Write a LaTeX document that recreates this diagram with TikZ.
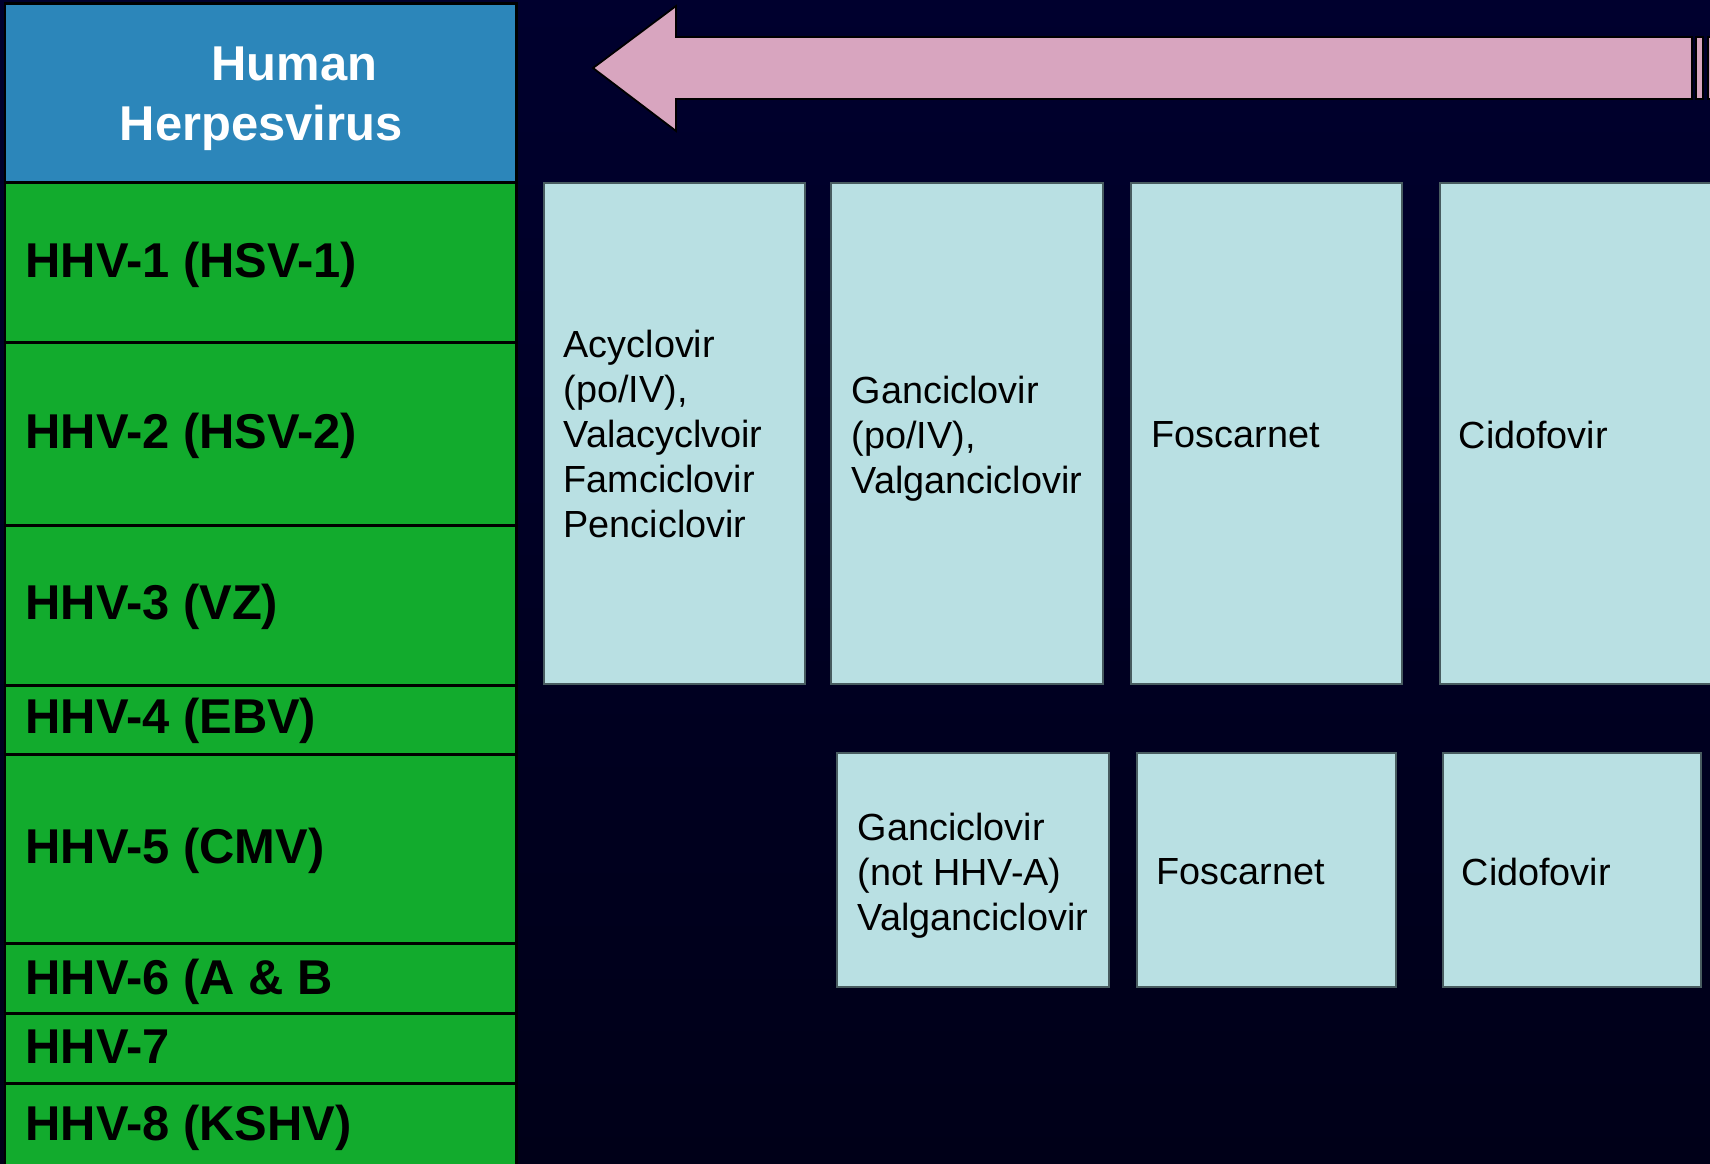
\documentclass[tikz,border=0pt]{standalone}
\usepackage{fontspec}
\setmainfont{Liberation Sans}

\definecolor{navytop}{RGB}{0,0,46}
\definecolor{navybot}{RGB}{0,0,24}
\definecolor{hdrblue}{RGB}{44,134,186}
\definecolor{rowgreen}{RGB}{18,171,45}
\definecolor{druglight}{RGB}{185,224,227}
\definecolor{drugedge}{RGB}{72,92,96}
\definecolor{arrowpink}{RGB}{216,165,191}

\tikzset{
	cell/.style={draw=black, line width=0.85pt},
	rowlabel/.style={anchor=base west, inner sep=0pt, font=\fontsize{13.9}{17}\selectfont\bfseries},
	drugbox/.style={draw=drugedge, line width=0.45pt, fill=druglight},
	druglabel/.style={anchor=west, inner sep=0pt, align=left, font=\fontsize{10.75}{12.75}\selectfont},
}

\begin{document}
\begin{tikzpicture}[x=0.01cm, y=-0.01cm]
		%%%%% BACKGROUND %%%%%
		\useasboundingbox (0, 0) rectangle (1710, 1163);
		\clip (0, 0) rectangle (1710, 1163);
		\shade[top color=navytop, bottom color=navybot] (0, 0) rectangle (1710, 1163);
		
		%%%%% LEFT COLUMN %%%%%
		\draw[cell, fill=hdrblue] (5, 3) rectangle (516, 182);
		\node[align=center, inner sep=0pt, text=white, font=\fontsize{13.9}{17}\selectfont\bfseries] (title) at (261, 99) {\hspace*{0.67cm}Human\\Herpesvirus};
		
		\draw[cell, fill=rowgreen] (5, 182) rectangle (516, 342);
		\draw[cell, fill=rowgreen] (5, 342) rectangle (516, 525);
		\draw[cell, fill=rowgreen] (5, 525) rectangle (516, 685);
		\draw[cell, fill=rowgreen] (5, 685) rectangle (516, 754);
		\draw[cell, fill=rowgreen] (5, 754) rectangle (516, 943);
		\draw[cell, fill=rowgreen] (5, 943) rectangle (516, 1013);
		\draw[cell, fill=rowgreen] (5, 1013) rectangle (516, 1083);
		\draw[cell, fill=rowgreen] (5, 1083) rectangle (516, 1180);
		
		\node[rowlabel] (hhv1) at (25, 277) {HHV-1 (HSV-1)};
		\node[rowlabel] (hhv2) at (25, 448) {HHV-2 (HSV-2)};
		\node[rowlabel] (hhv3) at (25, 619) {HHV-3 (VZ)};
		\node[rowlabel] (hhv4) at (25, 733) {HHV-4 (EBV)};
		\node[rowlabel] (hhv5) at (25, 863) {HHV-5 (CMV)};
		\node[rowlabel] (hhv6) at (25, 994) {HHV-6 (A \& B};
		\node[rowlabel] (hhv7) at (25, 1063) {HHV-7};
		\node[rowlabel] (hhv8) at (25, 1140) {HHV-8 (KSHV)};
		
		%%%%% ARROW %%%%%
		\draw[fill=arrowpink, line width=0.5pt, line join=miter] (593, 68) -- (676, 6) -- (676, 37) -- (1692, 37) -- (1692, 99) -- (676, 99) -- (676, 131) -- cycle;
		\draw[fill=arrowpink, line width=0.5pt] (1696, 37) rectangle (1703, 99);
		\draw[fill=arrowpink, line width=0.5pt] (1708, 37) rectangle (1725, 99);
		
		%%%%% TOP ROW OF DRUGS %%%%%
		\draw[drugbox] (544, 183) rectangle (805, 684);
		\node[druglabel] (acv) at (563, 434) {Acyclovir\\(po/IV),\\Valacyclvoir\\Famciclovir\\Penciclovir};
		
		\draw[drugbox] (831, 183) rectangle (1103, 684);
		\node[druglabel] (gcv) at (851, 439) {Ganciclovir\\(po/IV),\\Valganciclovir};
		
		\draw[drugbox] (1131, 183) rectangle (1402, 684);
		\node[druglabel] (fos) at (1151, 435) {Foscarnet};
		
		\draw[drugbox] (1440, 183) rectangle (1725, 684);
		\node[druglabel] (cdv) at (1458, 435) {Cidofovir};
		
		%%%%% BOTTOM ROW OF DRUGS %%%%%
		\draw[drugbox] (837, 753) rectangle (1109, 987);
		\node[druglabel] (gcvb) at (857, 876) {Ganciclovir\\(not HHV-A)\\Valganciclovir};
		
		\draw[drugbox] (1137, 753) rectangle (1396, 987);
		\node[druglabel] (fosb) at (1156, 872) {Foscarnet};
		
		\draw[drugbox] (1443, 753) rectangle (1701, 987);
		\node[druglabel] (cdvb) at (1461, 872) {Cidofovir};
		
	\end{tikzpicture}
\end{document}
